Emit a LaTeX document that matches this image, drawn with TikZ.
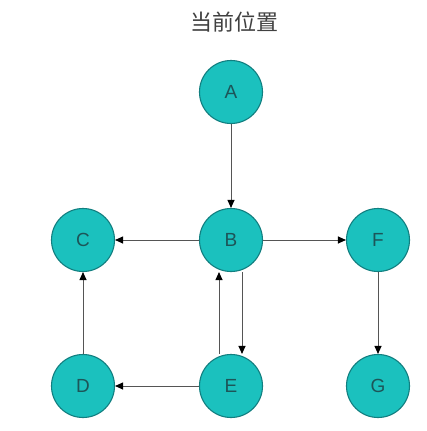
\documentclass[tikz,border=0pt]{standalone}
\usepackage{fontspec}
\setmainfont{Liberation Sans}
\newfontfamily\cjk{Noto Sans CJK SC}
\usepackage{tikz}
\usetikzlibrary{arrows.meta,calc}

\definecolor{nodefill}{HTML}{1BC1BE}
\definecolor{nodeline}{HTML}{127F80}
\definecolor{nodetext}{HTML}{1D5558}
\definecolor{edgeline}{HTML}{555555}

\begin{document}
\begin{tikzpicture}[x=1pt,y=-1pt,
  vertex/.style={circle,draw=nodeline,fill=nodefill,line width=1.1pt,minimum size=63pt,inner sep=0pt,
    text=nodetext,font=\fontsize{19}{19}\selectfont},
  edge/.style={draw=edgeline,line width=1pt,-{Triangle[length=8pt,width=7pt,fill=black,color=black]}}]
\useasboundingbox (0,0) rectangle (426,431);

\node[text=black!75] (title) at (234,22) {\cjk\fontsize{22}{22}\selectfont 当前位置};

\node[vertex] (A) at (231,92)  {A};
\node[vertex] (B) at (231,240) {B};
\node[vertex] (C) at (83,240)  {C};
\node[vertex] (F) at (378,240) {F};
\node[vertex] (D) at (83,386)  {D};
\node[vertex] (E) at (231,386) {E};
\node[vertex] (G) at (378,386) {G};

\draw[edge] (A) -- (B);
\draw[edge] (B) -- (C);
\draw[edge] (B) -- (F);
\draw[edge] (F) -- (G);
\draw[edge] (D) -- (C);
\draw[edge] (E) -- (D);
\draw[edge] ($(E.north)+(-12,0)$) -- ($(B.south)+(-12,0)$);
\draw[edge] ($(B.south)+(11,0)$) -- ($(E.north)+(11,0)$);
\end{tikzpicture}
\end{document}
